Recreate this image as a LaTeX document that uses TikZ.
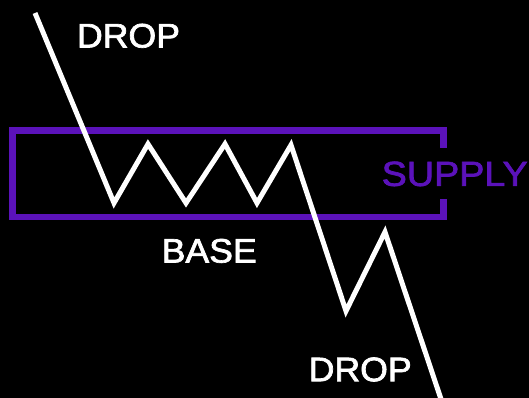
\documentclass[tikz,border=0pt]{standalone}
\usepackage{fontspec}
\setmainfont{Liberation Sans}
\newfontfamily\lblfont{Liberation Sans}[FakeBold=2]
\usepackage{graphicx}
\definecolor{zonepurple}{HTML}{5B12BA}
\begin{document}
\begin{tikzpicture}[x=1pt,y=-1pt,
  price/.style={draw=white,line width=5pt,line join=miter,miter limit=10},
  zone/.style={draw=zonepurple,line width=6.5pt,line cap=butt,line join=miter},
  lbl/.style={inner sep=0pt,text=white,font=\lblfont},
  zlbl/.style={inner sep=0pt,text=zonepurple,font=\lblfont}]
\fill[black] (0,0) rectangle (529,398);
\useasboundingbox (0,0) rectangle (529,398);
% supply zone
\coordinate (zTR) at (443.5,130.5);
\coordinate (zTRs) at (443.5,148);
\coordinate (zTL) at (12.5,130.5);
\coordinate (zBL) at (12.5,217);
\coordinate (zBR) at (443.5,217);
\coordinate (zBRs) at (443.5,199);
\draw[zone] (zTRs) -- (zTR) -- (zTL) -- (zBL) -- (zBR) -- (zBRs);
% price path
\coordinate (a) at (35,13);
\coordinate (l1) at (114,203);
\coordinate (p1) at (148,144);
\coordinate (l2) at (186,203);
\coordinate (p2) at (225,144);
\coordinate (l3) at (257,203);
\coordinate (p3) at (291,145);
\coordinate (l4) at (346,311);
\coordinate (p4) at (385,232);
\coordinate (e) at (448,420);
\begin{scope}
\clip (0,0) rectangle (529,398);
\draw[price] (a) -- (l1) -- (p1) -- (l2) -- (p2) -- (l3) -- (p3) -- (l4) -- (p4) -- (e);
\end{scope}
% labels
\node[lbl] (drop1) at (128.5,35.8) {\resizebox{103pt}{23.7pt}{DROP}};
\node[lbl] (base) at (209.2,250.9) {\resizebox{95pt}{23.7pt}{BASE}};
\node[lbl] (drop2) at (360.2,369.5) {\resizebox{103pt}{23.7pt}{DROP}};
\node[zlbl] (supply) at (454.7,173.9) {\resizebox{146pt}{24.3pt}{SUPPLY}};
\end{tikzpicture}
\end{document}
